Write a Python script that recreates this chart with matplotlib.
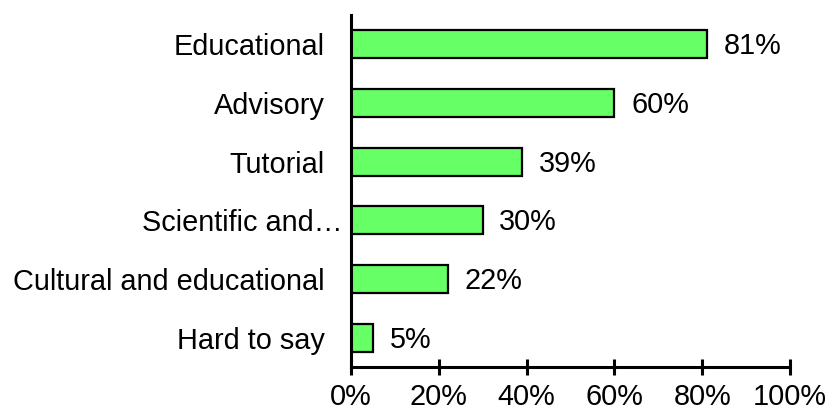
import matplotlib
matplotlib.use("Agg")
import matplotlib.pyplot as plt
import matplotlib.transforms as mtransforms

categories = ["Educational", "Advisory", "Tutorial", "Scientific and…",
              "Cultural and educational", "Hard to say"]
values = [81, 60, 39, 30, 22, 5]
xticks = [0, 20, 40, 60, 80, 100]
xtick_labels = ["0%", "20%", "40%", "60%", "80%", "100%"]

plt.rcParams['font.family'] = ['Liberation Sans', 'DejaVu Sans']
FS = 20.8

fig = plt.figure(figsize=(8.28, 4.12), dpi=100)
W, H = 828, 412
ax = fig.add_axes([351 / W, 1 - 367 / H, (790 - 351) / W, (367 - 15) / H])

y = list(range(len(categories)))
ax.barh(y, values, height=0.48, color="#66FF66", edgecolor="black", linewidth=1.6)
for yi, v in zip(y, values):
    ax.annotate(f"{v}%", (v, yi), xytext=(12, -1.5), textcoords="offset points",
                va="center", ha="left", fontsize=FS)

ax.set_ylim(len(categories) - 0.5, -0.5)
ax.set_xlim(0, 100)
ax.set_xticks(xticks)
ax.set_xticklabels(xtick_labels, fontsize=FS)
ax.set_yticks(y)
ax.set_yticklabels(categories, fontsize=FS)

for s in ["top", "right"]:
    ax.spines[s].set_visible(False)
for s in ["left", "bottom"]:
    ax.spines[s].set_linewidth(2.2)
ax.tick_params(axis="y", length=0, pad=19)
ax.tick_params(axis="x", direction="inout", length=11, width=2.2, pad=6)

# shift truncated label slightly right as in reference
lbl = ax.get_yticklabels()[3]
lbl.set_transform(lbl.get_transform() + mtransforms.ScaledTranslation(13 / 72, 0, fig.dpi_scale_trans))

fig.savefig("out.png", dpi=100)
